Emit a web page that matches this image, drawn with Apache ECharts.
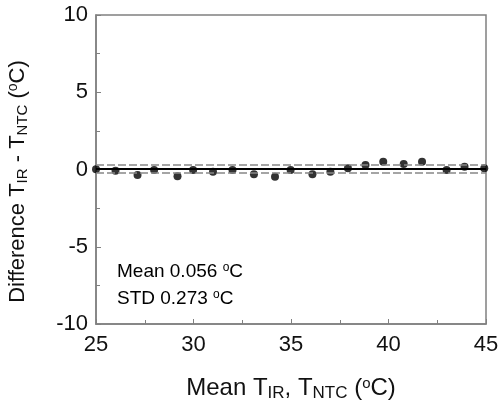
<!DOCTYPE html>
<html><head><meta charset="utf-8">
<script src="https://cdn.jsdelivr.net/npm/echarts@6/dist/echarts.min.js"></script>
<style>html,body{margin:0;padding:0;background:#fff}#c{width:501px;height:402px}</style>
</head><body><div id="c"></div>
<script>
const meanT = [25.0, 26.0, 27.13, 27.98, 29.18, 29.98, 31.0, 32.0, 33.1, 34.18, 34.98, 36.1, 37.02, 37.92, 38.82, 39.73, 40.78, 41.72, 42.98, 43.9, 44.91];
const diffT = [0.01, -0.08, -0.36, -0.03, -0.44, -0.03, -0.14, -0.03, -0.31, -0.47, -0.03, -0.31, -0.14, 0.08, 0.29, 0.5, 0.36, 0.5, -0.03, 0.18, 0.08];
const meanDiff = 0.056;
const stdDiff = 0.273;
const xTicks = [25, 30, 35, 40, 45];
const yTicks = [-10, -5, 0, 5, 10];

const F = 'Liberation Sans, Arial, sans-serif';
const C = '#111';
const richX = {
  a: {fontSize: 24, fontFamily: F, color: C},
  s: {fontSize: 17, fontFamily: F, color: C, padding: [11, 0, 0, 0]},
  o: {fontSize: 15, fontFamily: F, color: C, padding: [0, 0, 9, 0]}
};
const richY = {
  a: {fontSize: 22, fontFamily: F, color: C},
  s: {fontSize: 15, fontFamily: F, color: C, padding: [10, 0, 0, 0]},
  o: {fontSize: 14, fontFamily: F, color: C, padding: [0, 0, 8, 0]}
};
const chart = echarts.init(document.getElementById('c'));
chart.setOption({
  animation: false,
  grid: {left: 96, right: 15, top: 15, bottom: 78, outerBoundsMode: 'none', containLabel: false,
         show: true, borderColor: '#808080', borderWidth: 1.5},
  xAxis: {
    type: 'value', min: 25, max: 45, interval: 5,
    axisLine: {show: true, onZero: false, lineStyle: {color: '#808080', width: 1.5}},
    axisTick: {show: true, inside: true, length: 5, lineStyle: {color: '#808080'}},
    minorTick: {show: true, splitNumber: 2, length: 4, lineStyle: {color: '#808080'}},
    splitLine: {show: false},
    axisLabel: {fontSize: 22, fontFamily: F, color: C, margin: 10,
      formatter: v => xTicks.includes(v) ? String(v) : ''},
    name: '{a|Mean T}{s|IR}{a|, T}{s|NTC}{a| (}{o|o}{a|C)}',
    nameLocation: 'middle', nameGap: 50,
    nameTextStyle: {rich: richX}
  },
  yAxis: {
    type: 'value', min: -10, max: 10, interval: 5,
    axisLine: {show: true, onZero: false, lineStyle: {color: '#808080', width: 1.5}},
    axisTick: {show: true, inside: true, length: 5, lineStyle: {color: '#808080'}},
    minorTick: {show: true, splitNumber: 2, length: 4, lineStyle: {color: '#808080'}},
    splitLine: {show: false},
    axisLabel: {fontSize: 22, fontFamily: F, color: C, margin: 8,
      formatter: v => yTicks.includes(v) ? String(v) : ''},
    name: '{a|Difference T}{s|IR}{a| - T}{s|NTC}{a| (}{o|o}{a|C)}',
    nameLocation: 'middle', nameGap: 66, nameRotate: 90,
    nameTextStyle: {rich: richY, padding: [0, 24, 0, 0]}
  },
  series: [{
    type: 'scatter',
    data: meanT.map((x, i) => [x, diffT[i]]),
    symbolSize: 8,
    itemStyle: {color: '#000'},
    markLine: {
      silent: true, symbol: 'none', label: {show: false},
      data: [
        {yAxis: meanDiff, lineStyle: {color: '#000', type: 'solid', width: 2}},
        {yAxis: meanDiff + stdDiff, lineStyle: {color: '#888', type: [8, 3], width: 1.5}},
        {yAxis: meanDiff - stdDiff, lineStyle: {color: '#888', type: [8, 3], width: 1.5}}
      ]
    }
  }],
  graphic: [{
    type: 'text', left: 117, top: 262,
    style: {
      text: '{m|Mean ' + meanDiff.toFixed(3) + ' }{o|o}{m|C}\n{m|STD ' + stdDiff.toFixed(3) + ' }{o|o}{m|C}',
      rich: {
        m: {fontSize: 19, fontFamily: F, color: C, lineHeight: 27},
        o: {fontSize: 12, fontFamily: F, color: C, lineHeight: 27, padding: [0, 0, 8, 0]}
      }
    }
  }]
});
</script></body></html>
